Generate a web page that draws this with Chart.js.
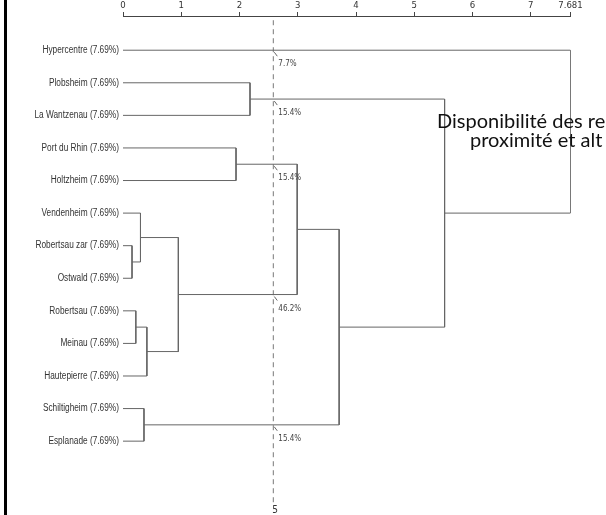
<!DOCTYPE html>
<html>
<head>
<meta charset="utf-8">
<script src="https://cdn.jsdelivr.net/npm/chart.js@4"></script>
<style>
  body { margin: 0; background: #fff; }
</style>
</head>
<body>
<canvas id="dendro" width="606" height="515"></canvas>
<script>
// leaves, top to bottom
const leafNames = ['Hypercentre', 'Plobsheim', 'La Wantzenau', 'Port du Rhin', 'Holtzheim', 'Vendenheim',
  'Robertsau zar', 'Ostwald', 'Robertsau', 'Meinau', 'Hautepierre', 'Schiltigheim', 'Esplanade'];
const leafShares = ['7.69%', '7.69%', '7.69%', '7.69%', '7.69%', '7.69%', '7.69%',
  '7.69%', '7.69%', '7.69%', '7.69%', '7.69%', '7.69%'];
// merges in order; node ids 0-12 are leaves, 13+ are the merges below
const mergeLeft = [6, 5, 8, 15, 14, 11, 3, 1, 19, 21, 20, 0];
const mergeRight = [7, 13, 9, 10, 16, 12, 4, 2, 17, 18, 22, 23];
const mergeHeight = [0.155, 0.30, 0.22, 0.41, 0.95, 0.36, 1.94, 2.18, 2.99, 3.71, 5.52, 7.681];
const axisTicks = [0, 1, 2, 3, 4, 5, 6, 7, 7.681];
const cutHeight = 2.58;
const cutLabels = ['7.7%', '15.4%', '15.4%', '46.2%', '15.4%'];
const cutCount = '5';
const titleLines = ['Disponibilité des re', 'proximité et alt'];

const narrow = "'DejaVu Sans Condensed', 'Liberation Sans Narrow', sans-serif";
const lineColor = '#666';

// node positions
const nodeY = leafNames.map((_, i) => i);
const nodeH = leafNames.map(() => 0);
const parentH = [];
mergeHeight.forEach((h, k) => {
  const l = mergeLeft[k], r = mergeRight[k];
  nodeY.push((nodeY[l] + nodeY[r]) / 2);
  nodeH.push(h);
  parentH[l] = h;
  parentH[r] = h;
});

const datasets = mergeHeight.map((h, k) => {
  const l = mergeLeft[k], r = mergeRight[k];
  return {
    data: [
      { x: nodeH[l], y: nodeY[l] },
      { x: h, y: nodeY[l] },
      { x: h, y: nodeY[r] },
      { x: nodeH[r], y: nodeY[r] },
    ],
    showLine: true,
    borderColor: lineColor,
    borderWidth: 1,
    pointRadius: 0,
    tension: 0,
  };
});

// cut line
datasets.push({
  data: [{ x: cutHeight, y: -0.92 }, { x: cutHeight, y: 13.96 }],
  showLine: true,
  borderColor: '#777',
  borderWidth: 1,
  borderDash: [5, 4],
  pointRadius: 0,
});

// branches crossed by the cut, top to bottom
const crossings = nodeY
  .map((y, i) => ({ y, i }))
  .filter((n) => nodeH[n.i] < cutHeight && parentH[n.i] > cutHeight)
  .sort((a, b) => a.y - b.y);

const decorations = {
  id: 'decorations',
  afterDraw(chart) {
    const ctx = chart.ctx;
    const xs = chart.scales.x, ys = chart.scales.y;
    ctx.save();
    // left frame
    ctx.fillStyle = '#000';
    ctx.fillRect(4, 0, 3, 515);

    // leaf labels, narrow like the original
    ctx.fillStyle = '#333';
    ctx.font = "10px 'Liberation Sans', Arial, sans-serif";
    ctx.textAlign = 'right';
    ctx.textBaseline = 'middle';
    leafNames.forEach((name, i) => {
      const py = ys.getPixelForValue(i);
      ctx.save();
      ctx.translate(xs.left - 4, py);
      ctx.scale(0.83, 1);
      ctx.fillText(name + ' (' + leafShares[i] + ')', 0, 0);
      ctx.restore();
    });

    // cut labels
    const cx = xs.getPixelForValue(cutHeight);
    ctx.strokeStyle = '#666';
    ctx.fillStyle = '#444';
    ctx.lineWidth = 1;
    ctx.font = '8px ' + narrow;
    ctx.textAlign = 'left';
    crossings.forEach((c, i) => {
      const py = ys.getPixelForValue(c.y);
      ctx.beginPath();
      ctx.moveTo(cx + 1, py + 2);
      ctx.lineTo(cx + 4, py + 6);
      ctx.stroke();
      ctx.fillText(cutLabels[i], cx + 5, py + 14);
    });
    ctx.font = '10px ' + narrow;
    ctx.fillStyle = '#333';
    ctx.fillText(cutCount, cx - 1, 510);

    // overlaid title
    ctx.fillStyle = '#111';
    ctx.font = "20px Lato, 'Open Sans', sans-serif";
    ctx.fillText(titleLines[0], 437, 122);
    ctx.fillText(titleLines[1], 470, 141);
    ctx.restore();
  },
};

new Chart('dendro', {
  type: 'scatter',
  data: { datasets: datasets },
  options: {
    responsive: false,
    animation: false,
    layout: { padding: { left: 0, right: 35.5, top: 0, bottom: 10 } },
    plugins: { legend: { display: false }, tooltip: { enabled: false } },
    scales: {
      x: {
        type: 'linear',
        position: 'top',
        min: 0,
        max: 7.681,
        afterFit(a) { a.height = 16; },
        afterBuildTicks(a) { a.ticks = axisTicks.map((v) => ({ value: v })); },
        grid: { drawOnChartArea: false, drawTicks: true, tickLength: 4, color: '#444' },
        border: { display: true, color: '#444', width: 1 },
        ticks: {
          padding: 1,
          color: '#333',
          autoSkip: false,
          maxRotation: 0,
          font: { family: narrow, size: 9.5 },
          callback: (v) => String(v),
        },
      },
      y: {
        type: 'linear',
        reverse: true,
        min: -1.05,
        max: 13.96,
        afterFit(a) { a.width = 123; },
        grid: { display: false, drawTicks: false },
        border: { display: false },
        ticks: { display: false },
      },
    },
  },
  plugins: [decorations],
});
</script>
</body>
</html>
